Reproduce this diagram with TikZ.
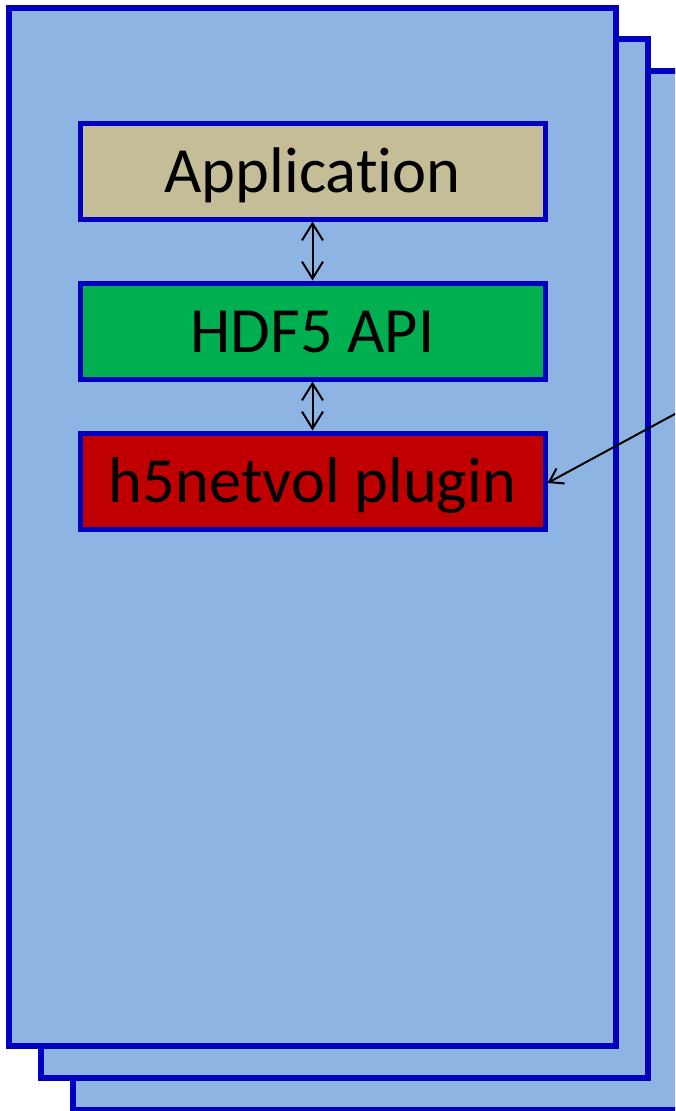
\documentclass[tikz,border=0pt]{standalone}
\usepackage{fontspec}
\setmainfont{Carlito}[Ligatures=NoCommon]
\usetikzlibrary{arrows.meta}
\definecolor{pagefill}{HTML}{8EB4E3}
\definecolor{pageedge}{HTML}{0000C0}
\definecolor{appfill}{HTML}{C4BD97}
\definecolor{apifill}{HTML}{00B050}
\definecolor{pluginfill}{HTML}{C00000}
\begin{document}
\begin{tikzpicture}[x=1pt,y=-1pt,
  page/.style={draw=pageedge, line width=5.5pt, fill=pagefill},
  layer/.style={draw=pageedge, line width=5pt, minimum width=465pt,
    minimum height=96pt, inner sep=0pt, text height=43pt, text depth=0pt,
    font=\fontsize{64.5}{64.5}\selectfont, text=black},
  link/.style={line width=2pt, {Straight Barb[length=17pt,width=21pt]}-{Straight Barb[length=17pt,width=21pt]}},
  pointer/.style={line width=2pt, -{Straight Barb[length=13pt,width=17pt]}}]
\useasboundingbox (0,0) rectangle (675,1111);
\clip (0,0) rectangle (675,1111);
% stacked process pages, back to front
\draw[page] (73,71) rectangle (740,1110);
\draw[page] (41,39) rectangle (648,1078);
\draw[page] (9,8) rectangle (616,1046);
% software layers
\node[layer, fill=appfill] (app) at (312.5,171) {Application};
\node[layer, fill=apifill] (api) at (312.5,331) {HDF5 API};
\node[layer, fill=pluginfill] (plugin) at (312.5,481) {h5netvol plugin};
\draw[link] (app.south) -- (api.north);
\draw[link] (api.south) -- (plugin.north);
% connection coming from another page
\coordinate (remote) at (710,395);
\draw[pointer] (remote) -- ([yshift=-2pt]plugin.east);
\end{tikzpicture}
\end{document}
